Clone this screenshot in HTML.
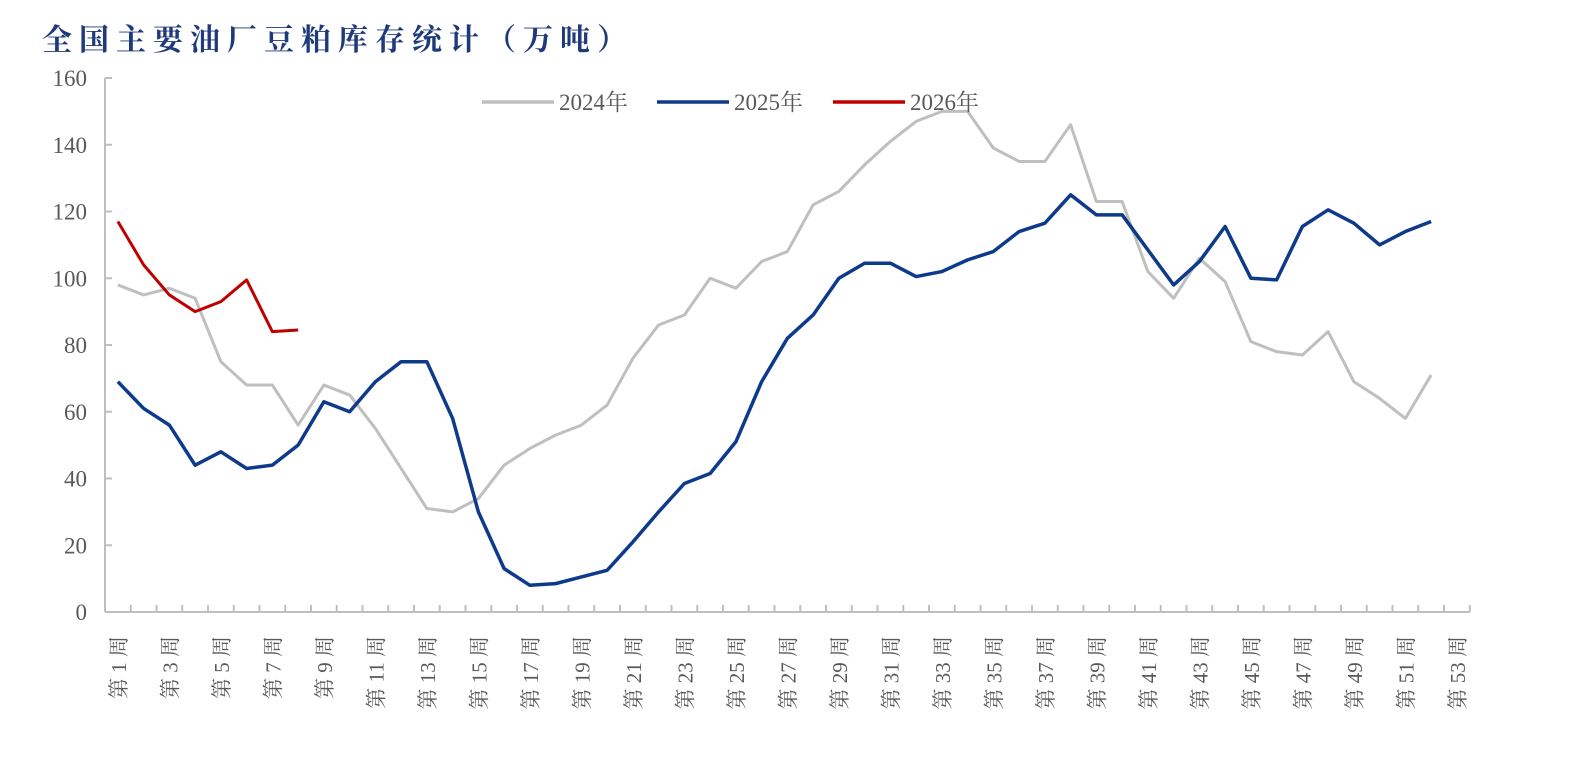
<!DOCTYPE html>
<html><head><meta charset="utf-8"><style>
body{margin:0;background:#fff;width:1594px;height:772px;overflow:hidden}
svg text{font-family:"Liberation Serif","Noto Serif CJK SC",serif}
</style></head><body>
<svg id="chart" width="1594" height="772" xmlns="http://www.w3.org/2000/svg">
<text x="42" y="50" font-size="30" font-weight="bold" fill="#1f3a7a" style="font-family:'Noto Serif CJK SC','Noto Sans CJK SC',serif;letter-spacing:7px">全国主要油厂豆粕库存统计（万吨）</text>
<g id="axes"></g><g id="series"></g><g id="legend"></g>
</svg>
<script>
const weeks = Array.from({length:53},(_,i)=>i+1);
const yTicks = [0,20,40,60,80,100,120,140,160];
const s2024 = [98,95,97,94,75,68,68,56,68,65,55,43,31,30,34,44,49,53,56,62,76,86,89,100,97,105,108,122,126,134,141,147,150,150,139,135,135,146,123,123,102,94,106,99,81,78,77,84,69,64,58,71];
const s2025 = [69,61,56,44,48,43,44,50,63,60,69,75,75,58,30,13,8,8.5,10.5,12.5,21,30,38.5,41.5,51,69,82,89,100,104.5,104.5,100.5,102,105.5,108,114,116.5,125,119,119,108.5,98,105,115.5,100,99.5,115.5,120.5,116.5,110,114,117];
const s2026 = [117,104,95,90,93,99.5,84,84.5];
const seriesNames = ["2024年","2025年","2026年"];
const colors = ["#bfbfbf","#0d3a8a","#c00000"];
const NS="http://www.w3.org/2000/svg";
const x0=105, band=25.75, yBase=612, yTop=78, yMax=160;
const X=w=>x0+band*(w-0.5);
const Y=v=>yBase-(v/yMax)*(yBase-yTop);
function mk(tag,attrs,parent){const e=document.createElementNS(NS,tag);for(const k in attrs)e.setAttribute(k,attrs[k]);parent.appendChild(e);return e;}
const axes=document.getElementById('axes');
const yAxis=mk('line',{x1:x0,y1:yTop,x2:x0,y2:yBase,stroke:'#bfbfbf','stroke-width':2},axes);


const xAxis=mk('line',{x1:x0,y1:yBase,x2:x0+band*53,y2:yBase,stroke:'#bfbfbf','stroke-width':2},axes);


yTicks.forEach(t=>{
  mk('line',{x1:x0,y1:Y(t),x2:x0+7,y2:Y(t),stroke:'#bfbfbf','stroke-width':2},axes);
  const tx=mk('text',{x:x0-18,y:Y(t)+8,'text-anchor':'end','font-size':23,fill:'#595959'},axes);
  tx.textContent=t;
  
  
});
for(let i=1;i<=53;i++){
  mk('line',{x1:x0+band*i,y1:yBase,x2:x0+band*i,y2:yBase-7,stroke:'#bfbfbf','stroke-width':2},axes);
}
weeks.forEach(w=>{
  if(w%2===0)return;
  const tx=mk('text',{x:0,y:0,'text-anchor':'end','font-size':21,fill:'#595959',transform:`translate(${X(w)+8},636) rotate(-90)`},axes);
  tx.textContent='第 '+w+' 周';
  
  
});
const ser=document.getElementById('series');
[s2024,s2025,s2026].forEach((d,i)=>{
  const p=mk('polyline',{points:d.map((v,j)=>X(j+1)+','+Y(v)).join(' '),fill:'none',stroke:colors[i],'stroke-width':i===1?3.5:3,'stroke-linejoin':'round'},ser);
  
  
});
const lg=document.getElementById('legend');
const lx=[482,657,833];
seriesNames.forEach((n,i)=>{
  const g=mk('g',{},lg);
  
  
  mk('line',{x1:lx[i],y1:102,x2:lx[i]+72,y2:102,stroke:colors[i],'stroke-width':3.5},g);
  const t=mk('text',{x:lx[i]+77,y:110,'font-size':23,fill:'#595959'},g);
  t.textContent=n;
});
</script>
</body></html>
